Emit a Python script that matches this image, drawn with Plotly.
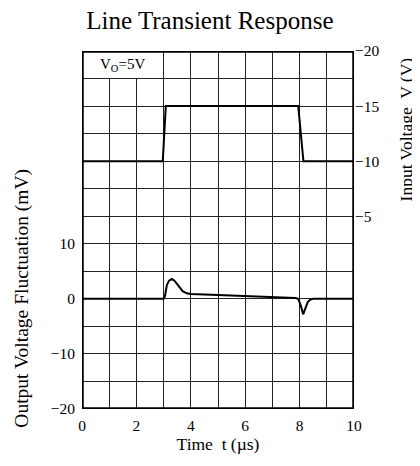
import plotly.graph_objects as go

# Output voltage fluctuation (mV) vs time (us)
t_out = [0, 3.0, 3.05, 3.12, 3.2, 3.3, 3.4, 3.55, 3.7, 3.85, 4.0, 5.0, 6.0, 7.0, 7.85, 7.95, 8.05, 8.13, 8.2, 8.3, 8.4, 8.5, 10]
v_out = [0, 0, 0.5, 2.5, 3.3, 3.6, 3.3, 2.3, 1.4, 1.0, 0.9, 0.7, 0.5, 0.35, 0.15, 0.0, -1.3, -2.8, -2.0, -0.6, -0.1, 0, 0]

# Input voltage (V) vs time (us)
t_in = [0, 2.97, 3.08, 7.95, 8.14, 10]
v_in = [-10, -10, -15, -15, -10, -10]

x_ticks = [0, 2, 4, 6, 8, 10]
left_ticks = [-20, -10, 0, 10]
right_ticks = [-20, -15, -10, -5]

FONT = "Liberation Serif"
GRID = "#222"

fig = go.Figure()
fig.add_trace(go.Scatter(x=t_out, y=v_out, mode="lines",
                         line=dict(color="black", width=2), yaxis="y", showlegend=False))
fig.add_trace(go.Scatter(x=t_in, y=v_in, mode="lines",
                         line=dict(color="black", width=2), yaxis="y2", showlegend=False))

# white box for label in top-left cells
fig.add_shape(type="rect", xref="x", yref="y", x0=0.04, x1=2.96, y0=40.1, y1=44.9,
              fillcolor="white", line=dict(width=0), layer="above")
# frame
fig.add_shape(type="rect", xref="x", yref="y", x0=0, x1=10, y0=-20, y1=45,
              fillcolor="rgba(0,0,0,0)", line=dict(color="black", width=3.5), layer="above")

fig.add_annotation(x=1.5, y=42.5, xref="x", yref="y", text="V<sub>O</sub>=5V",
                   showarrow=False, font=dict(family=FONT, size=15, color="black"))

fig.add_annotation(x=-0.222, y=0.31, xref="paper", yref="paper",
                   text="Output Voltage Fluctuation (mV)", textangle=-90, showarrow=False,
                   xanchor="center", yanchor="middle", font=dict(family=FONT, size=19.5, color="black"))
fig.add_annotation(x=1.19, y=0.78, xref="paper", yref="paper",
                   text="Input Voltage  V (V)", textangle=-90, showarrow=False,
                   xanchor="center", yanchor="middle", font=dict(family=FONT, size=17.5, color="black"))

tickfont = dict(family=FONT, size=15.5, color="black")

fig.update_layout(
    width=412, height=450,
    margin=dict(l=74, r=66, t=43, b=40),
    paper_bgcolor="white", plot_bgcolor="white",
    font=dict(family=FONT, size=15, color="black"),
    title=dict(text="Line Transient Response", x=0.49, xanchor="center", y=0.973, yanchor="middle",
               font=dict(family=FONT, size=25, color="black")),
    xaxis=dict(range=[0, 10], tickvals=x_ticks, showgrid=True, gridcolor=GRID, gridwidth=1,
               minor=dict(dtick=1, tick0=0, showgrid=True, gridcolor=GRID, gridwidth=1),
               zeroline=False, showline=False, ticks="outside", ticklen=2, tickcolor="white",
               tickfont=tickfont,
               title=dict(text="Time  t (µs)", font=dict(family=FONT, size=17.5, color="black"), standoff=0)),
    yaxis=dict(range=[-20, 45], tickvals=left_ticks, showgrid=True, gridcolor=GRID, gridwidth=1,
               minor=dict(dtick=5, tick0=0, showgrid=True, gridcolor=GRID, gridwidth=1),
               zeroline=False, showline=False, ticks="outside", ticklen=3, tickcolor="white",
               tickfont=tickfont),
    yaxis2=dict(range=[12.5, -20], overlaying="y", side="right", tickvals=right_ticks,
                showgrid=False, zeroline=False, showline=False, ticks="", tickfont=tickfont),
)

fig.write_html("out.html")
